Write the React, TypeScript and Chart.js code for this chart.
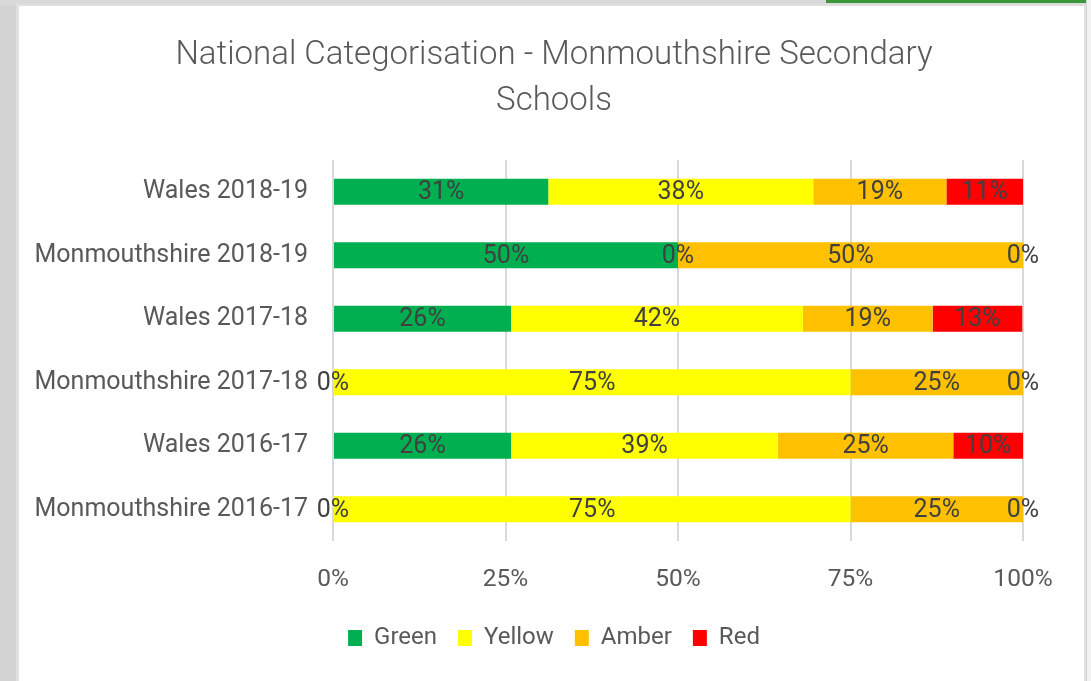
import React, { useEffect, useRef } from "react";
import { Chart, registerables } from "chart.js";

Chart.register(...registerables);

const categories = [
  "Wales 2018-19",
  "Monmouthshire 2018-19",
  "Wales 2017-18",
  "Monmouthshire 2017-18",
  "Wales 2016-17",
  "Monmouthshire 2016-17",
];

const greenValues = [31.2, 50, 25.8, 0, 25.8, 0];
const yellowValues = [38.4, 0, 42.3, 75, 38.7, 75];
const amberValues = [19.3, 50, 18.8, 25, 25.4, 25];
const redValues = [11.1, 0, 13.0, 0, 10.1, 0];

const xTicks = [0, 25, 50, 75, 100];

const titleLines = ["National Categorisation - Monmouthshire Secondary", "Schools"];

const FONT = "Roboto";
const AXIS_TEXT = "#595959";
const LABEL_TEXT = "#404040";

const PAD_LEFT = 30;
const PLOT_LEFT = 333;

const dataLabelPlugin = {
  id: "segmentLabels",
  afterDatasetsDraw(chart: any) {
    const ctx = chart.ctx;
    ctx.save();
    ctx.font = `25px ${FONT}`;
    ctx.fillStyle = LABEL_TEXT;
    ctx.textAlign = "center";
    ctx.textBaseline = "middle";
    chart.data.datasets.forEach((ds: any, di: number) => {
      const meta = chart.getDatasetMeta(di);
      if (meta.hidden) return;
      meta.data.forEach((bar: any, i: number) => {
        const v = ds.data[i];
        const cx = (bar.x + bar.base) / 2;
        ctx.fillText(Math.round(v) + "%", cx, bar.y + 1);
      });
    });
    ctx.restore();
  },
};

export default function App() {
  const ref = useRef<HTMLCanvasElement | null>(null);

  useEffect(() => {
    if (!ref.current) return;
    const chart = new Chart(ref.current, {
      type: "bar",
      data: {
        labels: categories,
        datasets: [
          { label: "Green", data: greenValues, backgroundColor: "#00B050" },
          { label: "Yellow", data: yellowValues, backgroundColor: "#FFFF00" },
          { label: "Amber", data: amberValues, backgroundColor: "#FFC000" },
          { label: "Red", data: redValues, backgroundColor: "#FF0000" },
        ],
      },
      options: {
        indexAxis: "y",
        responsive: false,
        animation: false,
        datasets: {
          bar: { categoryPercentage: 0.41, barPercentage: 1, borderWidth: 0 },
        },
        layout: { padding: { left: PAD_LEFT, right: 13, top: 0, bottom: 21 } },
        scales: {
          x: {
            stacked: true,
            min: 0,
            max: 100,
            afterBuildTicks(scale: any) {
              scale.ticks = xTicks.map((v) => ({ value: v }));
            },
            afterFit(scale: any) {
              scale.height = 64;
            },
            grid: { color: "#D9D9D9", lineWidth: 2, drawTicks: false },
            border: { display: false },
            ticks: {
              padding: 24,
              color: AXIS_TEXT,
              font: { family: FONT, size: 24.5 },
              callback: (v: any) => v + "%",
            },
          },
          y: {
            stacked: true,
            afterFit(scale: any) {
              scale.width = PLOT_LEFT - PAD_LEFT;
            },
            grid: { display: false, drawTicks: false },
            border: { display: false },
            ticks: {
              padding: 25,
              color: AXIS_TEXT,
              font: { family: FONT, size: 25 },
            },
          },
          ySpacer: {
            type: "category",
            position: "right",
            labels: categories,
            afterFit(scale: any) {
              scale.width = 55;
            },
            grid: { display: false, drawTicks: false },
            border: { display: false },
            ticks: { display: false },
          },
        },
        plugins: {
          title: {
            display: true,
            text: titleLines,
            color: AXIS_TEXT,
            font: { family: FONT, size: 33, weight: "300", lineHeight: 1.38 },
            padding: { top: 33, bottom: 36 },
          },
          legend: {
            position: "bottom",
            labels: {
              boxWidth: 14,
              boxHeight: 16,
              padding: 21,
              color: AXIS_TEXT,
              font: { family: FONT, size: 24 },
            },
          },
          tooltip: { enabled: false },
        },
      },
      plugins: [dataLabelPlugin],
    } as any);
    return () => chart.destroy();
  }, []);

  return (
    <div
      style={{
        position: "fixed",
        left: 0,
        top: 0,
        width: 1091,
        height: 681,
        overflow: "hidden",
        background: "#d2d2d2",
      }}
    >
      <div style={{ position: "absolute", left: 0, top: 0, width: 1091, height: 6, background: "#d8d8d8" }} />
      <div style={{ position: "absolute", left: 826, top: 0, width: 260, height: 3, background: "#3c963c" }} />
      <div style={{ position: "absolute", left: 1087, top: 0, width: 4, height: 681, background: "#f2f2f2" }} />
      <div
        style={{
          position: "absolute",
          left: 16,
          top: 4,
          width: 1070,
          height: 690,
          background: "#e0e0e0",
        }}
      />
      <div
        style={{
          position: "absolute",
          left: 19,
          top: 6,
          width: 1065,
          height: 690,
          background: "#ffffff",
        }}
      />
      <canvas
        ref={ref}
        width={1091}
        height={681}
        style={{ position: "absolute", left: 0, top: 0, width: 1091, height: 681 }}
      />
    </div>
  );
}
